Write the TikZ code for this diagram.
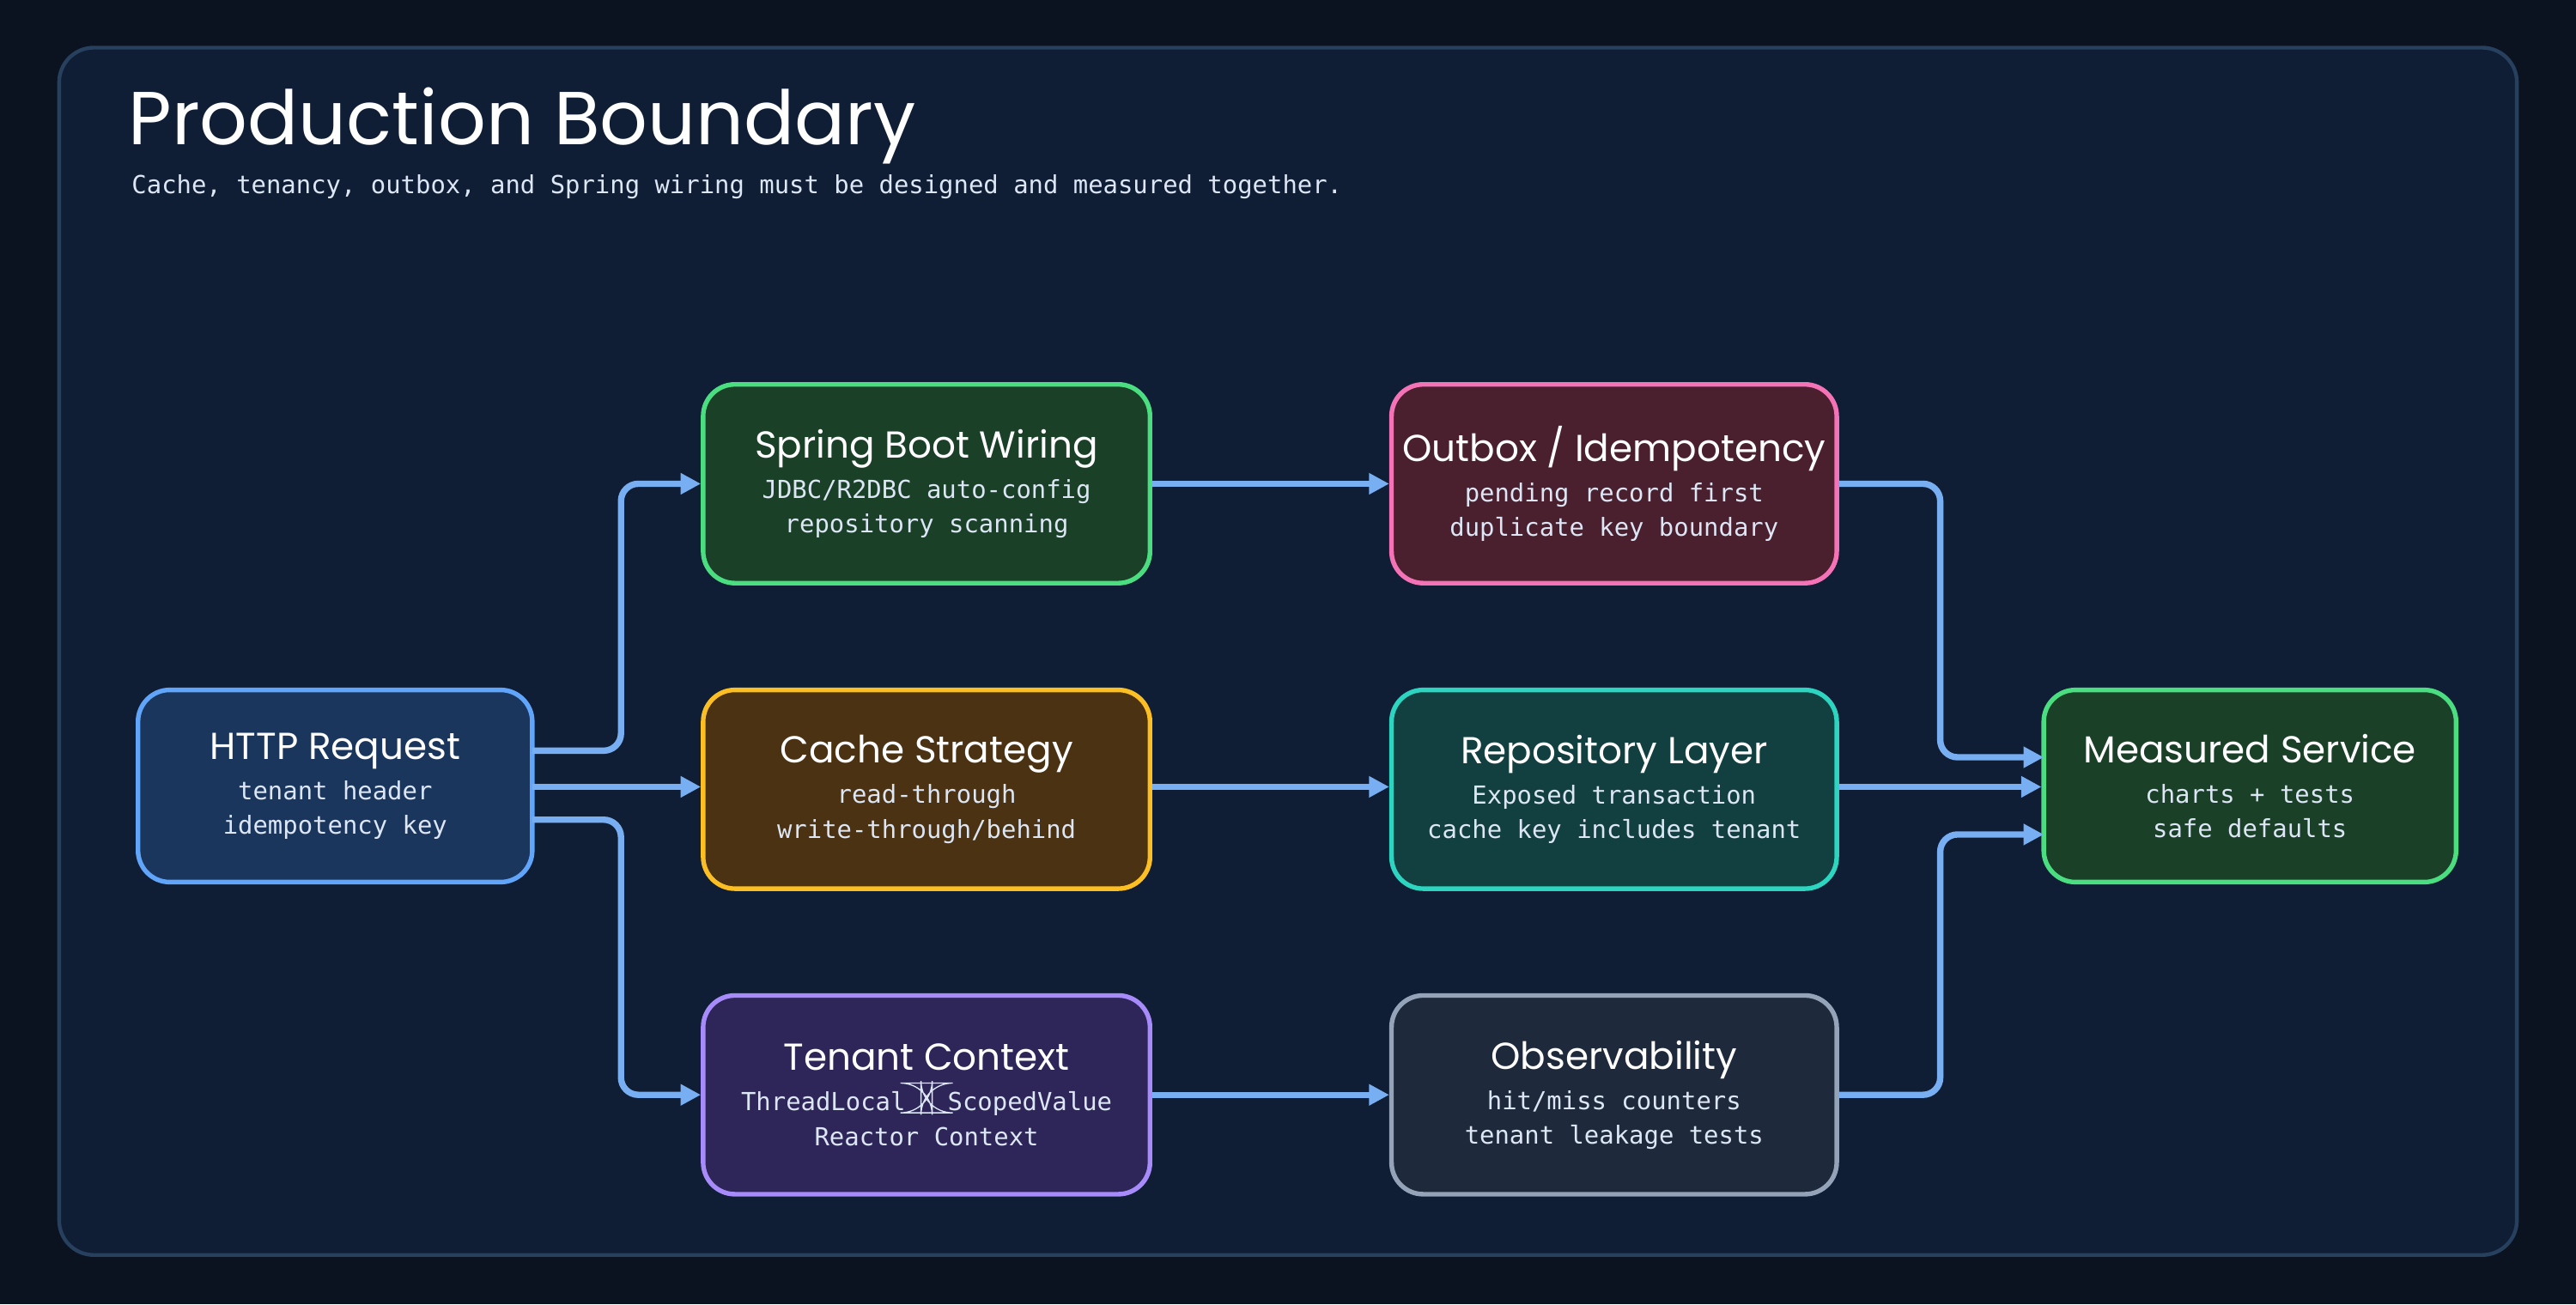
\documentclass[tikz,border=0pt]{standalone}
\usepackage{fontspec}
\setmainfont{DejaVu Sans}
\newfontfamily\monof{DejaVu Sans Mono}
\newfontfamily\headf{Poppins}
\usetikzlibrary{arrows.meta}
\definecolor{bgc}{HTML}{0B1220}
\definecolor{panel}{HTML}{0F1E35}
\definecolor{panelb}{HTML}{26405E}
\definecolor{arr}{HTML}{78AEF2}
\definecolor{subt}{HTML}{DCE6F5}
\newcommand{\missingglyph}{\raisebox{-0.15ex}{\tikz[baseline]\draw[subt,line width=0.4pt](0,0) rectangle (0.45em,1.2em);}}
\newcommand{\hd}[1]{{\headf\fontsize{13}{15}\selectfont #1}}
\newcommand{\sbl}[1]{{\monof\fontsize{8.6}{12.5}\selectfont\textcolor{subt}{#1}}}
\definecolor{f1}{HTML}{1A365D}\definecolor{s1}{HTML}{60A5FA}
\definecolor{f2}{HTML}{1A4028}\definecolor{s2}{HTML}{4ADE80}
\definecolor{f3}{HTML}{4A3212}\definecolor{s3}{HTML}{FBBF24}
\definecolor{f4}{HTML}{2E2558}\definecolor{s4}{HTML}{A78BFA}
\definecolor{f5}{HTML}{4A1F2E}\definecolor{s5}{HTML}{F472B6}
\definecolor{f6}{HTML}{123F3F}\definecolor{s6}{HTML}{2DD4BF}
\definecolor{f7}{HTML}{1E293B}\definecolor{s7}{HTML}{94A3B8}
\begin{document}
\begin{tikzpicture}[x=0.02cm,y=-0.02cm,
  box/.style={draw, line width=1.6pt, rounded corners=11pt, align=center, text=white, inner sep=0pt},
  conn/.style={draw=arr, line width=2.2pt, rounded corners=6pt, -{Triangle[length=7pt,width=7pt]}},
]
\useasboundingbox (0,0) rectangle (1568,794);
\fill[bgc] (0,0) rectangle (1568,794);
\draw[fill=panel, draw=panelb, line width=1.3pt, rounded corners=12pt] (36,29) rectangle (1532,764);
\node[anchor=base west, text=white, font=\headf\fontsize{26}{30}\selectfont] (title) at (72,88) {Production Boundary};
\node[anchor=base west, text=subt, font=\monof\fontsize{8.6}{10}\selectfont] (sub) at (74,118) {Cache, tenancy, outbox, and Spring wiring must be designed and measured together.};

\newcommand{\mybox}[9]{%
\node[box, fill=#6, draw=#7, minimum width=#3*0.02cm, minimum height=#4*0.02cm] (#1) at (#2) {\hd{#5}\\[2pt]\sbl{#8}\\\sbl{#9}};}

\mybox{http}{204,478.5}{240}{117}{HTTP Request}{f1}{s1}{tenant header}{idempotency key}
\mybox{spring}{564,294.5}{272}{121}{Spring Boot Wiring}{f2}{s2}{JDBC/R2DBC auto-config}{repository scanning}
\mybox{cache}{564,480.5}{272}{121}{Cache Strategy}{f3}{s3}{read-through}{write-through/behind}
\mybox{tenant}{564,666.5}{272}{121}{Tenant Context}{f4}{s4}{ThreadLocal \missingglyph{} ScopedValue}{Reactor Context}
\mybox{outbox}{982.5,294.5}{271}{121}{Outbox / Idempotency}{f5}{s5}{pending record first}{duplicate key boundary}
\mybox{repo}{982.5,480.5}{271}{121}{Repository Layer}{f6}{s6}{Exposed transaction}{cache key includes tenant}
\mybox{obs}{982.5,666.5}{271}{121}{Observability}{f7}{s7}{hit/miss counters}{tenant leakage tests}
\mybox{meas}{1369.5,478.5}{251}{117}{Measured Service}{f2}{s2}{charts + tests}{safe defaults}

\coordinate (h1) at (324,457);
\coordinate (h2) at (324,479);
\coordinate (h3) at (324,499);
\coordinate (m1) at (1244,461);
\coordinate (m3) at (1244,508);
\draw[conn] (h1) -- (378,457) -- (378,294.5) -- (spring.west);
\draw[conn] (h2) -- (cache.west |- h2);
\draw[conn] (h3) -- (378,499) -- (378,666.5) -- (tenant.west);
\draw[conn] (spring.east) -- (outbox.west);
\draw[conn] (cache.east |- h2) -- (repo.west |- h2);
\draw[conn] (tenant.east) -- (obs.west);
\draw[conn] (outbox.east) -- (1181,294.5) -- (1181,461) -- (m1);
\draw[conn] (repo.east |- h2) -- (meas.west |- h2);
\draw[conn] (obs.east) -- (1181,666.5) -- (1181,508) -- (m3);
\end{tikzpicture}
\end{document}
